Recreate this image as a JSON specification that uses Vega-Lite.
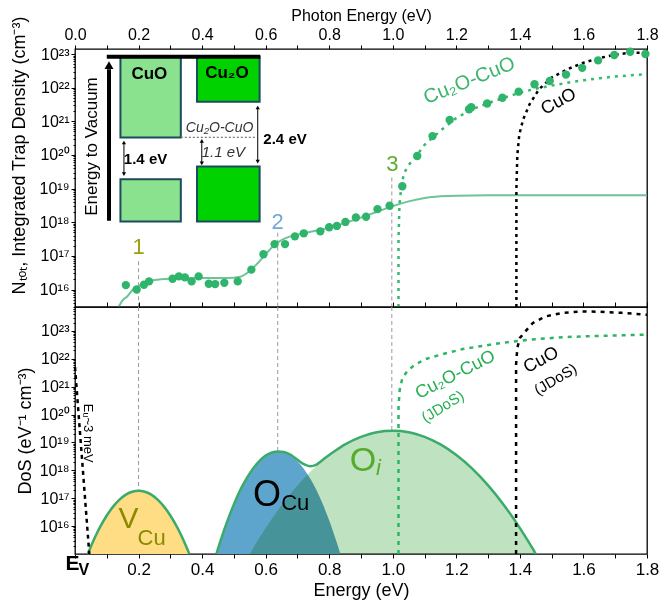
{
  "$schema": "https://vega.github.io/schema/vega-lite/v6.json",
  "padding": {"left": 9, "top": 6, "right": 0, "bottom": 0},
  "spacing": 0,
  "bounds": "flush",
  "config": {
    "font": "Liberation Sans",
    "view": {"stroke": "black", "strokeWidth": 1.3},
    "axis": {"grid": false, "domain": false, "tickColor": "black", "labelColor": "black", "titleColor": "black", "titleFontWeight": "normal", "labelOverlap": false, "labelFlush": false}
  },
  "datasets": {
    "pts": [
      {"E": 0.160, "v": 1.35e16}, {"E": 0.194, "v": 1.0e16}, {"E": 0.217, "v": 1.38e16}, {"E": 0.233, "v": 1.74e16},
      {"E": 0.307, "v": 2.09e16}, {"E": 0.327, "v": 2.45e16}, {"E": 0.346, "v": 2.29e16}, {"E": 0.367, "v": 1.74e16},
      {"E": 0.389, "v": 2.45e16}, {"E": 0.421, "v": 1.48e16}, {"E": 0.441, "v": 1.45e16}, {"E": 0.470, "v": 1.58e16},
      {"E": 0.512, "v": 1.74e16}, {"E": 0.555, "v": 3.89e16}, {"E": 0.593, "v": 1.12e17}, {"E": 0.628, "v": 2.24e17},
      {"E": 0.661, "v": 2.24e17}, {"E": 0.692, "v": 3.80e17}, {"E": 0.720, "v": 4.68e17}, {"E": 0.772, "v": 5.37e17},
      {"E": 0.800, "v": 7.08e17}, {"E": 0.824, "v": 7.76e17}, {"E": 0.851, "v": 1.02e18}, {"E": 0.884, "v": 1.38e18},
      {"E": 0.916, "v": 1.45e18}, {"E": 0.952, "v": 2.45e18}, {"E": 0.990, "v": 3.09e18}, {"E": 1.030, "v": 1.17e19},
      {"E": 1.077, "v": 9.33e19}, {"E": 1.125, "v": 3.63e20}, {"E": 1.179, "v": 1.10e21}, {"E": 1.240, "v": 2.29e21},
      {"E": 1.247, "v": 2.63e21}, {"E": 1.297, "v": 3.39e21}, {"E": 1.345, "v": 5.01e21}, {"E": 1.396, "v": 7.59e21},
      {"E": 1.446, "v": 1.26e22}, {"E": 1.494, "v": 1.58e22}, {"E": 1.545, "v": 2.45e22}, {"E": 1.596, "v": 3.89e22},
      {"E": 1.646, "v": 6.46e22}, {"E": 1.697, "v": 9.33e22}, {"E": 1.747, "v": 1.17e23}, {"E": 1.795, "v": 1.0e23}
    ],
    "fit": [
      {"E": 0.137, "v": 3.02e15}, {"E": 0.150, "v": 4.79e15}, {"E": 0.165, "v": 6.31e15}, {"E": 0.180, "v": 9.55e15},
      {"E": 0.200, "v": 1.26e16}, {"E": 0.225, "v": 1.66e16}, {"E": 0.250, "v": 1.91e16}, {"E": 0.300, "v": 2.09e16},
      {"E": 0.400, "v": 2.19e16}, {"E": 0.480, "v": 2.19e16}, {"E": 0.520, "v": 2.40e16}, {"E": 0.550, "v": 3.55e16},
      {"E": 0.575, "v": 6.03e16}, {"E": 0.600, "v": 1.12e17}, {"E": 0.625, "v": 2.0e17}, {"E": 0.650, "v": 2.95e17},
      {"E": 0.675, "v": 3.72e17}, {"E": 0.700, "v": 4.27e17}, {"E": 0.750, "v": 5.37e17}, {"E": 0.800, "v": 6.92e17},
      {"E": 0.850, "v": 9.55e17}, {"E": 0.900, "v": 1.38e18}, {"E": 0.950, "v": 2.04e18}, {"E": 1.000, "v": 3.02e18},
      {"E": 1.050, "v": 4.17e18}, {"E": 1.100, "v": 5.25e18}, {"E": 1.150, "v": 5.89e18}, {"E": 1.200, "v": 6.17e18},
      {"E": 1.300, "v": 6.31e18}, {"E": 1.800, "v": 6.31e18}
    ],
    "topG": [
      {"E": 1.018, "v": 3.02e15}, {"E": 1.018, "v": 3.16e17}, {"E": 1.021, "v": 3.16e18}, {"E": 1.026, "v": 1.0e19},
      {"E": 1.035, "v": 2.82e19}, {"E": 1.050, "v": 5.01e19}, {"E": 1.075, "v": 9.55e19}, {"E": 1.100, "v": 2.0e20},
      {"E": 1.150, "v": 5.25e20}, {"E": 1.200, "v": 1.26e21}, {"E": 1.250, "v": 2.29e21}, {"E": 1.300, "v": 3.47e21},
      {"E": 1.350, "v": 5.01e21}, {"E": 1.400, "v": 7.08e21}, {"E": 1.450, "v": 9.33e21}, {"E": 1.500, "v": 1.15e22},
      {"E": 1.550, "v": 1.41e22}, {"E": 1.600, "v": 1.66e22}, {"E": 1.650, "v": 1.91e22}, {"E": 1.700, "v": 2.14e22},
      {"E": 1.750, "v": 2.34e22}, {"E": 1.800, "v": 2.51e22}
    ],
    "topK": [
      {"E": 1.389, "v": 3.02e15}, {"E": 1.389, "v": 1.0e19}, {"E": 1.392, "v": 1.0e20}, {"E": 1.398, "v": 3.98e20},
      {"E": 1.410, "v": 1.12e21}, {"E": 1.430, "v": 3.16e21}, {"E": 1.460, "v": 8.91e21}, {"E": 1.500, "v": 2.0e22},
      {"E": 1.550, "v": 3.55e22}, {"E": 1.600, "v": 5.5e22}, {"E": 1.650, "v": 7.59e22}, {"E": 1.700, "v": 9.55e22},
      {"E": 1.750, "v": 1.1e23}, {"E": 1.800, "v": 1.1e23}
    ],
    "topV": [
      {"E": 0.2, "v": 6.92e16, "v2": 3.02e15}, {"E": 0.638, "v": 4.9e17, "v2": 3.02e15}, {"E": 0.997, "v": 2.14e19, "v2": 3.02e15}
    ],
    "rects": [
      {"E": 0.143, "E2": 0.333, "v": 8.3e22, "v2": 3.31e20, "k": "CuO"},
      {"E": 0.143, "E2": 0.333, "v": 1.91e19, "v2": 1.05e18, "k": "CuO"},
      {"E": 0.384, "E2": 0.581, "v": 8.3e22, "v2": 3.8e21, "k": "Cu2O"},
      {"E": 0.384, "E2": 0.581, "v": 4.57e19, "v2": 1.05e18, "k": "Cu2O"}
    ],
    "darr": [
      {"E": 0.154, "v": 2.34e20, "v2": 2.69e19}, {"E": 0.399, "v": 2.63e20, "v2": 5.62e19}, {"E": 0.575, "v": 2.57e21, "v2": 6.31e19}
    ],
    "vcu": [
      {"E": 0.04, "v": 1.0e15}, {"E": 0.05, "v": 1.86e15}, {"E": 0.06, "v": 3.39e15}, {"E": 0.07, "v": 5.89e15},
      {"E": 0.08, "v": 9.77e15}, {"E": 0.10, "v": 2.4e16}, {"E": 0.12, "v": 5.01e16}, {"E": 0.14, "v": 8.91e16},
      {"E": 0.16, "v": 1.35e17}, {"E": 0.18, "v": 1.7e17}, {"E": 0.20, "v": 1.86e17}, {"E": 0.22, "v": 1.7e17},
      {"E": 0.24, "v": 1.35e17}, {"E": 0.26, "v": 8.91e16}, {"E": 0.28, "v": 5.01e16}, {"E": 0.30, "v": 2.4e16},
      {"E": 0.32, "v": 9.77e15}, {"E": 0.33, "v": 5.89e15}, {"E": 0.34, "v": 3.39e15}, {"E": 0.35, "v": 1.86e15},
      {"E": 0.36, "v": 1.0e15}
    ],
    "ocu": [
      {"E": 0.445, "v": 1.0e15}, {"E": 0.455, "v": 2.34e15}, {"E": 0.46, "v": 3.47e15}, {"E": 0.47, "v": 7.59e15},
      {"E": 0.48, "v": 1.58e16}, {"E": 0.50, "v": 6.03e16}, {"E": 0.52, "v": 1.95e17}, {"E": 0.54, "v": 5.13e17},
      {"E": 0.56, "v": 1.15e18}, {"E": 0.58, "v": 2.14e18}, {"E": 0.60, "v": 3.39e18}, {"E": 0.62, "v": 4.37e18},
      {"E": 0.64, "v": 4.79e18}, {"E": 0.66, "v": 4.37e18}, {"E": 0.68, "v": 3.39e18}, {"E": 0.70, "v": 2.14e18},
      {"E": 0.72, "v": 1.15e18}, {"E": 0.74, "v": 5.13e17}, {"E": 0.76, "v": 1.95e17}, {"E": 0.78, "v": 6.03e16},
      {"E": 0.80, "v": 1.58e16}, {"E": 0.81, "v": 7.59e15}, {"E": 0.82, "v": 3.47e15}, {"E": 0.825, "v": 2.34e15},
      {"E": 0.835, "v": 1.0e15}
    ],
    "oi": [
      {"E": 0.55, "v": 1.0e15}, {"E": 0.56, "v": 1.58e15}, {"E": 0.575, "v": 3.02e15}, {"E": 0.60, "v": 8.51e15},
      {"E": 0.65, "v": 5.62e16}, {"E": 0.70, "v": 2.88e17}, {"E": 0.75, "v": 1.15e18}, {"E": 0.80, "v": 3.55e18},
      {"E": 0.85, "v": 8.51e18}, {"E": 0.90, "v": 1.58e19}, {"E": 0.95, "v": 2.34e19}, {"E": 1.00, "v": 2.63e19},
      {"E": 1.05, "v": 2.34e19}, {"E": 1.10, "v": 1.58e19}, {"E": 1.15, "v": 8.51e18}, {"E": 1.20, "v": 3.55e18},
      {"E": 1.25, "v": 1.15e18}, {"E": 1.30, "v": 2.88e17}, {"E": 1.35, "v": 5.62e16}, {"E": 1.40, "v": 8.51e15},
      {"E": 1.425, "v": 3.02e15}, {"E": 1.44, "v": 1.58e15}, {"E": 1.45, "v": 1.0e15}
    ],
    "env": [
      {"E": 0.445, "v": 1.0e15}, {"E": 0.455, "v": 2.34e15}, {"E": 0.46, "v": 3.47e15}, {"E": 0.47, "v": 7.59e15},
      {"E": 0.48, "v": 1.58e16}, {"E": 0.50, "v": 6.03e16}, {"E": 0.52, "v": 1.95e17}, {"E": 0.54, "v": 5.13e17},
      {"E": 0.56, "v": 1.15e18}, {"E": 0.58, "v": 2.14e18}, {"E": 0.60, "v": 3.39e18}, {"E": 0.62, "v": 4.37e18},
      {"E": 0.64, "v": 4.79e18}, {"E": 0.66, "v": 4.47e18}, {"E": 0.68, "v": 3.55e18}, {"E": 0.70, "v": 2.4e18},
      {"E": 0.72, "v": 1.66e18}, {"E": 0.74, "v": 1.41e18}, {"E": 0.76, "v": 1.62e18}, {"E": 0.78, "v": 2.4e18},
      {"E": 0.80, "v": 3.55e18}, {"E": 0.82, "v": 5.13e18}, {"E": 0.85, "v": 8.51e18}, {"E": 0.90, "v": 1.58e19},
      {"E": 0.95, "v": 2.34e19}, {"E": 1.00, "v": 2.63e19}, {"E": 1.05, "v": 2.34e19}, {"E": 1.10, "v": 1.58e19},
      {"E": 1.15, "v": 8.51e18}, {"E": 1.20, "v": 3.55e18}, {"E": 1.25, "v": 1.15e18}, {"E": 1.30, "v": 2.88e17},
      {"E": 1.35, "v": 5.62e16}, {"E": 1.40, "v": 8.51e15}, {"E": 1.425, "v": 3.02e15}, {"E": 1.44, "v": 1.58e15},
      {"E": 1.45, "v": 1.0e15}
    ],
    "botV": [
      {"E": 0.2, "v": 7.24e23, "v2": 1.86e17}, {"E": 0.638, "v": 7.24e23, "v2": 4.79e18}, {"E": 0.997, "v": 7.24e23, "v2": 2.63e19}
    ],
    "urb": [
      {"E": 0.0, "v": 5.01e21}, {"E": 0.045, "v": 1.0e15}
    ],
    "botG": [
      {"E": 1.018, "v": 1.0e15}, {"E": 1.018, "v": 2.0e20}, {"E": 1.022, "v": 7.94e20}, {"E": 1.030, "v": 2.0e21},
      {"E": 1.045, "v": 3.55e21}, {"E": 1.065, "v": 5.62e21}, {"E": 1.100, "v": 9.55e21}, {"E": 1.150, "v": 1.41e22},
      {"E": 1.220, "v": 2.24e22}, {"E": 1.330, "v": 3.55e22}, {"E": 1.430, "v": 4.9e22}, {"E": 1.540, "v": 6.03e22},
      {"E": 1.640, "v": 6.61e22}, {"E": 1.800, "v": 7.41e22}
    ],
    "botK": [
      {"E": 1.388, "v": 1.0e15}, {"E": 1.388, "v": 6.31e21}, {"E": 1.392, "v": 2.51e22}, {"E": 1.400, "v": 5.62e22},
      {"E": 1.417, "v": 9.55e22}, {"E": 1.440, "v": 1.91e23}, {"E": 1.480, "v": 3.31e23}, {"E": 1.530, "v": 4.37e23},
      {"E": 1.590, "v": 5.01e23}, {"E": 1.650, "v": 4.9e23}, {"E": 1.720, "v": 4.47e23}, {"E": 1.800, "v": 3.8e23}
    ]
  },
  "vconcat": [
    {
      "width": 572,
      "height": 258,
      "encoding": {
        "x": {"field": "E", "type": "quantitative", "scale": {"domain": [0, 1.8], "nice": false, "zero": false}, "axis": null},
        "y": {"field": "v", "type": "quantitative", "scale": {"type": "log", "domain": [3.02e15, 1.41e23], "nice": false}, "axis": null}
      },
      "resolve": {"axis": {"x": "independent", "y": "independent"}},
      "layer": [
        {
          "data": {"name": "rects"},
          "mark": {"type": "rect", "stroke": "#1b4b5e", "strokeWidth": 2},
          "encoding": {
            "x2": {"field": "E2"},
            "y2": {"field": "v2"},
            "color": {"field": "k", "type": "nominal", "scale": {"domain": ["CuO", "Cu2O"], "range": ["#8ae28f", "#00d200"]}, "legend": null}
          }
        },
        {
          "data": {"values": [{"E": 0.1, "E2": 0.583, "v": 8.3e22}]},
          "mark": {"type": "rule", "color": "black", "strokeWidth": 4},
          "encoding": {"x2": {"field": "E2"}}
        },
        {
          "data": {"values": [{"E": 0.107, "v": 1.1e18, "v2": 3.5e22}]},
          "mark": {"type": "rule", "color": "black", "strokeWidth": 4},
          "encoding": {"y2": {"field": "v2"}}
        },
        {
          "data": {"values": [{"E": 0.107, "v": 4.68e22}]},
          "mark": {"type": "point", "shape": "triangle-up", "size": 80, "filled": true, "color": "black", "opacity": 1},
          "encoding": {}
        },
        {
          "data": {"name": "darr"},
          "mark": {"type": "rule", "color": "black", "strokeWidth": 1},
          "encoding": {"y2": {"field": "v2"}}
        },
        {
          "data": {"name": "darr"},
          "mark": {"type": "point", "shape": "triangle-up", "size": 18, "filled": true, "color": "black", "opacity": 1},
          "encoding": {}
        },
        {
          "data": {"name": "darr"},
          "mark": {"type": "point", "shape": "triangle-down", "size": 18, "filled": true, "color": "black", "opacity": 1},
          "encoding": {"y": {"field": "v2", "type": "quantitative", "axis": null}}
        },
        {
          "data": {"values": [{"E": 0.333, "E2": 0.567, "v": 3.31e20}]},
          "mark": {"type": "rule", "color": "#777", "strokeWidth": 1.2, "strokeDash": [2, 2]},
          "encoding": {"x2": {"field": "E2"}}
        },
        {
          "data": {"values": [{"E": 0.234, "v": 2.51e22, "t": "CuO"}, {"E": 0.478, "v": 2.69e22, "t": "Cu₂O"}]},
          "mark": {"type": "text", "fontSize": 17, "fontWeight": "bold", "color": "black"},
          "encoding": {"text": {"field": "t"}}
        },
        {
          "data": {"values": [{"E": 0.222, "v": 7.41e19, "t": "1.4 eV"}, {"E": 0.661, "v": 2.95e20, "t": "2.4 eV"}]},
          "mark": {"type": "text", "fontSize": 15, "fontWeight": "bold", "color": "black"},
          "encoding": {"text": {"field": "t"}}
        },
        {
          "data": {"values": [{"E": 0.455, "v": 6.17e20, "t": "Cu₂O-CuO"}]},
          "mark": {"type": "text", "fontSize": 14, "fontStyle": "italic", "color": "#333"},
          "encoding": {"text": {"field": "t"}}
        },
        {
          "data": {"values": [{"E": 0.467, "v": 1.23e20, "t": "1.1 eV"}]},
          "mark": {"type": "text", "fontSize": 15, "fontStyle": "italic", "color": "#333"},
          "encoding": {"text": {"field": "t"}}
        },
        {
          "data": {"values": [{"E": 0.055, "v": 1.78e20, "t": "Energy to Vacuum"}]},
          "mark": {"type": "text", "fontSize": 17, "angle": 270, "color": "black"},
          "encoding": {"text": {"field": "t"}}
        },
        {
          "data": {"name": "topV"},
          "mark": {"type": "rule", "color": "#999", "strokeWidth": 1, "strokeDash": [4, 3]},
          "encoding": {"y2": {"field": "v2"}}
        },
        {
          "data": {"values": [{"E": 0.2, "v": 1.82e17, "t": "1"}]},
          "mark": {"type": "text", "fontSize": 22, "color": "#9e9e10"},
          "encoding": {"text": {"field": "t"}}
        },
        {
          "data": {"values": [{"E": 0.638, "v": 1.0e18, "t": "2"}]},
          "mark": {"type": "text", "fontSize": 22, "color": "#6ea8d8"},
          "encoding": {"text": {"field": "t"}}
        },
        {
          "data": {"values": [{"E": 0.999, "v": 5.25e19, "t": "3"}]},
          "mark": {"type": "text", "fontSize": 22, "color": "#5aae2c"},
          "encoding": {"text": {"field": "t"}}
        },
        {
          "data": {"name": "fit"},
          "mark": {"type": "line", "color": "#6fc497", "strokeWidth": 2, "interpolate": "monotone"},
          "encoding": {
            "x": {"field": "E", "type": "quantitative", "scale": {"domain": [0, 1.8], "nice": false, "zero": false},
              "axis": {"orient": "bottom", "values": [0, 0.1, 0.2, 0.3, 0.4, 0.5, 0.6, 0.7, 0.8, 0.9, 1, 1.1, 1.2, 1.3, 1.4, 1.5, 1.6, 1.7, 1.8], "labels": false, "tickSize": -5, "title": null}},
            "y": {"field": "v", "type": "quantitative", "scale": {"type": "log", "domain": [3.02e15, 1.41e23], "nice": false},
              "axis": {"orient": "left", "values": [4e15, 5e15, 6e15, 7e15, 8e15, 9e15, 2e16, 3e16, 4e16, 5e16, 6e16, 7e16, 8e16, 9e16, 2e17, 3e17, 4e17, 5e17, 6e17, 7e17, 8e17, 9e17, 2e18, 3e18, 4e18, 5e18, 6e18, 7e18, 8e18, 9e18, 2e19, 3e19, 4e19, 5e19, 6e19, 7e19, 8e19, 9e19, 2e20, 3e20, 4e20, 5e20, 6e20, 7e20, 8e20, 9e20, 2e21, 3e21, 4e21, 5e21, 6e21, 7e21, 8e21, 9e21, 2e22, 3e22, 4e22, 5e22, 6e22, 7e22, 8e22, 9e22], "labels": false, "tickSize": 2, "title": null}}
          }
        },
        {
          "data": {"name": "topG"},
          "mark": {"type": "line", "color": "#36b96b", "strokeWidth": 2.5, "strokeDash": [3, 5]},
          "encoding": {}
        },
        {
          "data": {"name": "topK"},
          "mark": {"type": "line", "color": "black", "strokeWidth": 2.5, "strokeDash": [3, 4]},
          "encoding": {}
        },
        {
          "data": {"name": "pts"},
          "mark": {"type": "circle", "size": 70, "color": "#2fb46b", "opacity": 1},
          "encoding": {
            "x": {"field": "E", "type": "quantitative", "scale": {"domain": [0, 1.8], "nice": false, "zero": false},
              "axis": {"orient": "top", "values": [0, 0.1, 0.2, 0.3, 0.4, 0.5, 0.6, 0.7, 0.8, 0.9, 1, 1.1, 1.2, 1.3, 1.4, 1.5, 1.6, 1.7, 1.8],
                "labelExpr": "round(datum.value*10)%2==0 ? format(datum.value,'.1f') : ''",
                "title": "Photon Energy (eV)", "titleFontSize": 16, "labelFontSize": 16, "tickSize": 4, "labelPadding": 3, "titleY": -26}},
            "y": {"field": "v", "type": "quantitative", "scale": {"type": "log", "domain": [3.02e15, 1.41e23], "nice": false},
              "axis": {"orient": "left", "values": [1e16, 1e17, 1e18, 1e19, 1e20, 1e21, 1e22, 1e23],
                "labelExpr": "'10' + ['⁰','¹','²','³','⁴','⁵','⁶','⁷','⁸','⁹'][floor(round(log(datum.value)/LN10)/10)] + ['⁰','¹','²','³','⁴','⁵','⁶','⁷','⁸','⁹'][round(log(datum.value)/LN10)%10]",
                "title": "Nₜₒₜ, Integrated Trap Density (cm⁻³)", "titleFontSize": 18, "labelFontSize": 16, "tickSize": 4, "labelPadding": 2, "titleX": -47, "titleY": 106}}
          }
        },
        {
          "data": {"values": [{"E": 1.241, "v": 1.62e22, "t": "Cu₂O-CuO"}]},
          "mark": {"type": "text", "fontSize": 20, "angle": 338, "color": "#3cb56e"},
          "encoding": {"text": {"field": "t"}}
        },
        {
          "data": {"values": [{"E": 1.522, "v": 3.8e21, "t": "CuO"}]},
          "mark": {"type": "text", "fontSize": 18, "angle": 332, "color": "black"},
          "encoding": {"text": {"field": "t"}}
        }
      ]
    },
    {
      "width": 572,
      "height": 247,
      "encoding": {
        "x": {"field": "E", "type": "quantitative", "scale": {"domain": [0, 1.8], "nice": false, "zero": false}, "axis": null},
        "y": {"field": "v", "type": "quantitative", "scale": {"type": "log", "domain": [1e15, 7.24e23], "nice": false}, "axis": null}
      },
      "resolve": {"axis": {"x": "independent", "y": "independent"}},
      "layer": [
        {
          "data": {"name": "vcu"},
          "mark": {"type": "area", "color": "#fedd85", "interpolate": "monotone"},
          "encoding": {
            "x": {"field": "E", "type": "quantitative", "scale": {"domain": [0, 1.8], "nice": false, "zero": false},
              "axis": {"orient": "bottom", "values": [0, 0.1, 0.2, 0.3, 0.4, 0.5, 0.6, 0.7, 0.8, 0.9, 1, 1.1, 1.2, 1.3, 1.4, 1.5, 1.6, 1.7, 1.8],
                "labelExpr": "datum.value < 0.05 ? '' : (round(datum.value*10)%2==0 ? format(datum.value,'.1f') : '')",
                "title": "Energy (eV)", "titleFontSize": 18, "labelFontSize": 17, "tickSize": 4, "labelPadding": 3, "titleY": 27}},
            "y": {"field": "v", "type": "quantitative", "scale": {"type": "log", "domain": [1e15, 7.24e23], "nice": false},
              "axis": {"orient": "left", "values": [1e16, 1e17, 1e18, 1e19, 1e20, 1e21, 1e22, 1e23],
                "labelExpr": "'10' + ['⁰','¹','²','³','⁴','⁵','⁶','⁷','⁸','⁹'][floor(round(log(datum.value)/LN10)/10)] + ['⁰','¹','²','³','⁴','⁵','⁶','⁷','⁸','⁹'][round(log(datum.value)/LN10)%10]",
                "title": "DoS (eV⁻¹ cm⁻³)", "titleFontSize": 18, "labelFontSize": 16, "tickSize": 4, "labelPadding": 2, "titleX": -41}},
            "y2": {"datum": 1e15}
          }
        },
        {
          "data": {"name": "ocu"},
          "mark": {"type": "area", "color": "#5ea5cd", "interpolate": "monotone"},
          "encoding": {
            "y": {"field": "v", "type": "quantitative", "scale": {"type": "log", "domain": [1e15, 7.24e23], "nice": false},
              "axis": {"orient": "left", "values": [2e15, 3e15, 4e15, 5e15, 6e15, 7e15, 8e15, 9e15, 2e16, 3e16, 4e16, 5e16, 6e16, 7e16, 8e16, 9e16, 2e17, 3e17, 4e17, 5e17, 6e17, 7e17, 8e17, 9e17, 2e18, 3e18, 4e18, 5e18, 6e18, 7e18, 8e18, 9e18, 2e19, 3e19, 4e19, 5e19, 6e19, 7e19, 8e19, 9e19, 2e20, 3e20, 4e20, 5e20, 6e20, 7e20, 8e20, 9e20, 2e21, 3e21, 4e21, 5e21, 6e21, 7e21, 8e21, 9e21, 2e22, 3e22, 4e22, 5e22, 6e22, 7e22, 8e22, 9e22, 2e23, 3e23, 4e23, 5e23, 6e23, 7e23], "labels": false, "tickSize": 2, "title": null}},
            "y2": {"datum": 1e15}
          }
        },
        {
          "data": {"name": "oi"},
          "mark": {"type": "area", "color": "#bfe3c0", "interpolate": "monotone", "blend": "multiply"},
          "encoding": {"y2": {"datum": 1e15}}
        },
        {
          "data": {"name": "vcu"},
          "mark": {"type": "line", "color": "#3aab6a", "strokeWidth": 2.5, "interpolate": "monotone"},
          "encoding": {}
        },
        {
          "data": {"name": "env"},
          "mark": {"type": "line", "color": "#3aab6a", "strokeWidth": 2.5, "interpolate": "monotone"},
          "encoding": {}
        },
        {
          "data": {"name": "botV"},
          "mark": {"type": "rule", "color": "#999", "strokeWidth": 1, "strokeDash": [4, 3]},
          "encoding": {"y2": {"field": "v2"}}
        },
        {
          "data": {"name": "urb"},
          "mark": {"type": "line", "color": "black", "strokeWidth": 2.5, "strokeDash": [4, 4]},
          "encoding": {}
        },
        {
          "data": {"name": "botG"},
          "mark": {"type": "line", "color": "#2db562", "strokeWidth": 2.5, "strokeDash": [4, 5]},
          "encoding": {}
        },
        {
          "data": {"name": "botK"},
          "mark": {"type": "line", "color": "black", "strokeWidth": 2.5, "strokeDash": [4, 5]},
          "encoding": {}
        },
        {
          "data": {"values": [{"E": 0.168, "v": 1.74e16, "t": "V"}]},
          "mark": {"type": "text", "fontSize": 30, "color": "#8a8a00"},
          "encoding": {"text": {"field": "t"}}
        },
        {
          "data": {"values": [{"E": 0.241, "v": 3.8e15, "t": "Cu"}]},
          "mark": {"type": "text", "fontSize": 22, "color": "#8a8a00"},
          "encoding": {"text": {"field": "t"}}
        },
        {
          "data": {"values": [{"E": 0.604, "v": 1.35e17, "t": "O"}]},
          "mark": {"type": "text", "fontSize": 36, "color": "black"},
          "encoding": {"text": {"field": "t"}}
        },
        {
          "data": {"values": [{"E": 0.693, "v": 6.76e16, "t": "Cu"}]},
          "mark": {"type": "text", "fontSize": 22, "color": "black"},
          "encoding": {"text": {"field": "t"}}
        },
        {
          "data": {"values": [{"E": 0.906, "v": 2.09e18, "t": "O"}]},
          "mark": {"type": "text", "fontSize": 34, "color": "#56ab2f"},
          "encoding": {"text": {"field": "t"}}
        },
        {
          "data": {"values": [{"E": 0.955, "v": 1.2e18, "t": "i"}]},
          "mark": {"type": "text", "fontSize": 22, "fontStyle": "italic", "color": "#56ab2f"},
          "encoding": {"text": {"field": "t"}}
        },
        {
          "data": {"values": [{"E": 1.197, "v": 2.63e21, "t": "Cu₂O-CuO"}]},
          "mark": {"type": "text", "fontSize": 18, "angle": 333, "color": "#22b050"},
          "encoding": {"text": {"field": "t"}}
        },
        {
          "data": {"values": [{"E": 1.157, "v": 1.95e20, "t": "(JDoS)"}]},
          "mark": {"type": "text", "fontSize": 15, "angle": 328, "color": "#22b050"},
          "encoding": {"text": {"field": "t"}}
        },
        {
          "data": {"values": [{"E": 1.467, "v": 8.9e21, "t": "CuO"}]},
          "mark": {"type": "text", "fontSize": 18, "angle": 332, "color": "black"},
          "encoding": {"text": {"field": "t"}}
        },
        {
          "data": {"values": [{"E": 1.512, "v": 1.86e21, "t": "(JDoS)"}]},
          "mark": {"type": "text", "fontSize": 15, "angle": 329, "color": "black"},
          "encoding": {"text": {"field": "t"}}
        },
        {
          "data": {"values": [{"E": 0.042, "v": 2.14e19, "t": "Eᵤ~3 meV"}]},
          "mark": {"type": "text", "fontSize": 13, "angle": 90, "color": "black"},
          "encoding": {"text": {"field": "t"}}
        },
        {
          "data": {"values": [{"E": -0.008, "v": 4.27e14, "t": "E"}]},
          "mark": {"type": "text", "fontSize": 21, "fontWeight": "bold", "color": "black"},
          "encoding": {"text": {"field": "t"}}
        },
        {
          "data": {"values": [{"E": 0.028, "v": 2.57e14, "t": "V"}]},
          "mark": {"type": "text", "fontSize": 16, "fontWeight": "bold", "color": "black"},
          "encoding": {"text": {"field": "t"}}
        }
      ]
    }
  ]
}
